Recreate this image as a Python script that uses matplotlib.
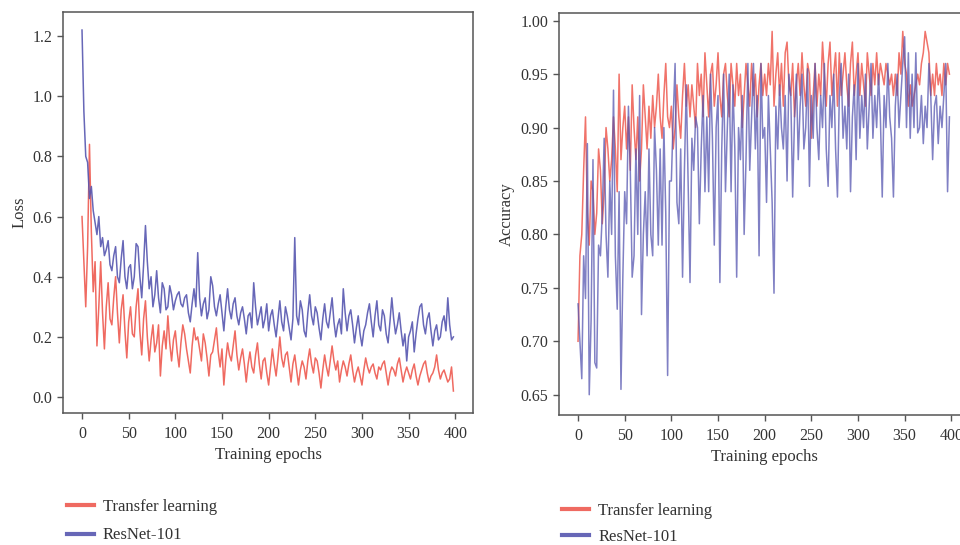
import matplotlib
matplotlib.use('Agg')
import matplotlib.pyplot as plt

plt.rcParams['font.family'] = ['Liberation Serif', 'DejaVu Serif']

epochs = list(range(0, 400, 2))

# loss, ResNet-101
loss_resnet = [
    1.22, 0.95, 0.80, 0.78, 0.66, 0.70, 0.62, 0.58, 0.54, 0.60,
    0.50, 0.53, 0.47, 0.49, 0.52, 0.44, 0.42, 0.47, 0.50, 0.40,
    0.38, 0.46, 0.52, 0.40, 0.36, 0.43, 0.44, 0.36, 0.40, 0.51,
    0.50, 0.40, 0.33, 0.44, 0.57, 0.45, 0.36, 0.40, 0.30, 0.34,
    0.42, 0.33, 0.28, 0.38, 0.36, 0.29, 0.30, 0.37, 0.34, 0.29,
    0.32, 0.34, 0.35, 0.31, 0.30, 0.33, 0.34, 0.28, 0.25, 0.31,
    0.36, 0.30, 0.48, 0.33, 0.27, 0.31, 0.33, 0.26, 0.29, 0.40,
    0.37, 0.30, 0.27, 0.31, 0.34, 0.28, 0.22, 0.30, 0.36, 0.29,
    0.26, 0.31, 0.33, 0.27, 0.24, 0.28, 0.30, 0.26, 0.21, 0.27,
    0.28, 0.23, 0.38, 0.30, 0.24, 0.27, 0.30, 0.23, 0.26, 0.31,
    0.22, 0.27, 0.29, 0.24, 0.20, 0.26, 0.32, 0.25, 0.22, 0.30,
    0.27, 0.23, 0.19, 0.26, 0.53, 0.27, 0.24, 0.32, 0.29, 0.22,
    0.20, 0.28, 0.34, 0.27, 0.24, 0.30, 0.28, 0.23, 0.19, 0.26,
    0.31, 0.25, 0.23, 0.28, 0.33, 0.25, 0.20, 0.24, 0.26, 0.21,
    0.36, 0.28, 0.22, 0.27, 0.29, 0.24, 0.18, 0.23, 0.27, 0.21,
    0.17, 0.22, 0.24, 0.28, 0.31, 0.25, 0.20, 0.27, 0.32, 0.24,
    0.22, 0.29, 0.27, 0.21, 0.18, 0.25, 0.33, 0.26, 0.21, 0.24,
    0.28, 0.22, 0.17, 0.21, 0.12, 0.20, 0.22, 0.25, 0.15, 0.21,
    0.26, 0.30, 0.31, 0.24, 0.21, 0.26, 0.28, 0.22, 0.17, 0.22,
    0.24, 0.19, 0.20, 0.25, 0.27, 0.22, 0.33, 0.24, 0.19, 0.20,
]

# loss, transfer learning
loss_transfer = [
    0.60, 0.45, 0.30, 0.50, 0.84, 0.55, 0.35, 0.45, 0.17, 0.30,
    0.45, 0.28, 0.16, 0.30, 0.38, 0.26, 0.24, 0.33, 0.40, 0.28,
    0.18, 0.29, 0.34, 0.22, 0.13, 0.25, 0.30, 0.21, 0.20, 0.30,
    0.36, 0.22, 0.14, 0.26, 0.32, 0.20, 0.12, 0.19, 0.24, 0.15,
    0.18, 0.24, 0.07, 0.17, 0.22, 0.16, 0.27, 0.18, 0.12, 0.19,
    0.22, 0.15, 0.10, 0.18, 0.24, 0.21, 0.16, 0.12, 0.08, 0.17,
    0.23, 0.19, 0.20, 0.16, 0.12, 0.21, 0.18, 0.13, 0.07, 0.14,
    0.15, 0.19, 0.23, 0.15, 0.10, 0.16, 0.04, 0.12, 0.18, 0.14,
    0.12, 0.17, 0.22, 0.14, 0.09, 0.13, 0.16, 0.11, 0.05, 0.11,
    0.15, 0.10, 0.08, 0.14, 0.18, 0.11, 0.06, 0.12, 0.13, 0.08,
    0.04, 0.10, 0.16, 0.11, 0.07, 0.13, 0.20, 0.13, 0.10, 0.14,
    0.15, 0.10, 0.05, 0.11, 0.14, 0.09, 0.04, 0.09, 0.12, 0.10,
    0.06, 0.12, 0.16, 0.11, 0.08, 0.13, 0.12, 0.08, 0.03, 0.09,
    0.14, 0.10, 0.07, 0.12, 0.17, 0.12, 0.09, 0.12, 0.05, 0.09,
    0.12, 0.10, 0.07, 0.11, 0.14, 0.09, 0.05, 0.08, 0.10, 0.07,
    0.04, 0.09, 0.13, 0.10, 0.08, 0.10, 0.11, 0.08, 0.06, 0.10,
    0.09, 0.11, 0.12, 0.08, 0.04, 0.08, 0.10, 0.09, 0.07, 0.11,
    0.13, 0.09, 0.05, 0.08, 0.10, 0.08, 0.06, 0.09, 0.11, 0.07,
    0.04, 0.07, 0.09, 0.11, 0.12, 0.08, 0.05, 0.07, 0.08, 0.10,
    0.14, 0.09, 0.06, 0.08, 0.09, 0.07, 0.05, 0.06, 0.10, 0.02,
]

# accuracy, ResNet-101
acc_resnet = [
    0.735, 0.70, 0.665, 0.78, 0.74, 0.885, 0.65, 0.72, 0.87, 0.68,
    0.675, 0.79, 0.78, 0.82, 0.89, 0.80, 0.76, 0.85, 0.80, 0.935,
    0.78, 0.73, 0.84, 0.655, 0.76, 0.84, 0.81, 0.92, 0.86, 0.76,
    0.78, 0.88, 0.80, 0.93, 0.725, 0.80, 0.84, 0.78, 0.88, 0.80,
    0.78, 0.90, 0.86, 0.79, 0.88, 0.79, 0.90, 0.82, 0.668, 0.85,
    0.85, 0.91, 0.96, 0.83, 0.81, 0.88, 0.76, 0.86, 0.94, 0.85,
    0.755, 0.89, 0.86, 0.91, 0.90, 0.81, 0.88, 0.93, 0.84, 0.91,
    0.84, 0.95, 0.89, 0.79, 0.90, 0.93, 0.755, 0.88, 0.95, 0.84,
    0.90, 0.95, 0.84, 0.94, 0.88, 0.76, 0.90, 0.87, 0.93, 0.80,
    0.87, 0.96, 0.86, 0.91, 0.96, 0.88, 0.93, 0.78, 0.96, 0.89,
    0.90, 0.83, 0.93, 0.88, 0.83, 0.745, 0.92, 0.88, 0.94, 0.90,
    0.88, 0.93, 0.85, 0.95, 0.93, 0.835, 0.91, 0.95, 0.87, 0.92,
    0.95, 0.88, 0.90, 0.955, 0.845, 0.93, 0.89, 0.96, 0.90, 0.87,
    0.93, 0.90, 0.96, 0.88, 0.845, 0.93, 0.90, 0.95, 0.88, 0.835,
    0.93, 0.96, 0.89, 0.92, 0.88, 0.95, 0.84, 0.91, 0.94, 0.87,
    0.96, 0.89, 0.93, 0.90, 0.95, 0.88, 0.92, 0.96, 0.89, 0.93,
    0.90, 0.95, 0.91, 0.835, 0.93, 0.90, 0.96, 0.91, 0.89, 0.835,
    0.92, 0.95, 0.90, 0.93, 0.96, 0.985, 0.90, 0.97, 0.89, 0.95,
    0.90, 0.97, 0.895, 0.90, 0.93, 0.885, 0.92, 0.90, 0.96, 0.93,
    0.87, 0.92, 0.93, 0.885, 0.92, 0.90, 0.93, 0.96, 0.84, 0.91,
]

# accuracy, transfer learning
acc_transfer = [
    0.70, 0.78, 0.80, 0.86, 0.91, 0.82, 0.79, 0.85, 0.84, 0.80,
    0.82, 0.88, 0.86, 0.81, 0.84, 0.90, 0.88, 0.85, 0.87, 0.91,
    0.88, 0.84, 0.95, 0.87, 0.90, 0.92, 0.88, 0.91, 0.86, 0.94,
    0.90, 0.87, 0.91, 0.85, 0.88, 0.94, 0.91, 0.88, 0.92, 0.89,
    0.93, 0.90, 0.92, 0.95, 0.91, 0.89, 0.93, 0.96, 0.91, 0.90,
    0.92, 0.88, 0.90, 0.94, 0.91, 0.89, 0.93, 0.96, 0.92, 0.94,
    0.91, 0.94, 0.92, 0.90, 0.96, 0.93, 0.95, 0.91, 0.97, 0.94,
    0.91, 0.95, 0.96, 0.92, 0.94, 0.97, 0.93, 0.91, 0.95, 0.96,
    0.93, 0.91, 0.96, 0.94, 0.92, 0.96, 0.93, 0.95, 0.90, 0.93,
    0.96, 0.94, 0.92, 0.96, 0.93, 0.95, 0.91, 0.94, 0.96, 0.93,
    0.95, 0.93, 0.96, 0.94, 0.99, 0.92, 0.95, 0.97, 0.93, 0.96,
    0.92, 0.97, 0.98, 0.94, 0.93, 0.96, 0.91, 0.94, 0.96, 0.93,
    0.97, 0.94, 0.92, 0.96, 0.95, 0.89, 0.93, 0.96, 0.92, 0.95,
    0.93, 0.98, 0.95, 0.92, 0.96, 0.98, 0.93, 0.95, 0.97, 0.92,
    0.97, 0.93, 0.95, 0.97, 0.94, 0.92, 0.96, 0.98, 0.93, 0.95,
    0.97, 0.93, 0.96, 0.94, 0.92, 0.97, 0.95, 0.93, 0.96, 0.94,
    0.97, 0.94, 0.96, 0.95, 0.94, 0.96, 0.95, 0.94, 0.95, 0.93,
    0.95, 0.93, 0.97, 0.95, 0.99, 0.96, 0.95, 0.92, 0.94, 0.92,
    0.93, 0.94, 0.95, 0.94, 0.96, 0.97, 0.99, 0.98, 0.97, 0.93,
    0.95, 0.93, 0.96, 0.94, 0.95, 0.93, 0.96, 0.94, 0.96, 0.95,
]

RED = '#ee5a50'
BLUE = '#5656b0'
TEXT = '#333333'

fig = plt.figure(figsize=(9.6, 5.45), dpi=100)
ax1 = fig.add_axes([0.0656, 0.2422, 0.4271, 0.7358])
ax2 = fig.add_axes([0.5823, 0.2385, 0.4271, 0.7376])

for ax in (ax1, ax2):
    for sp in ax.spines.values():
        sp.set_color('#555555')
        sp.set_linewidth(1.1)
    ax.tick_params(direction='out', length=4, width=1, color='#555555',
                   labelsize=11.5, labelcolor=TEXT)
    ax.tick_params(axis='x', pad=5)
    ax.set_xticks(range(0, 401, 50))
    ax.set_xlim(-20.4, 419)
    ax.set_xlabel('Training epochs', fontsize=12, color=TEXT)

# loss panel
ax1.plot(epochs, loss_transfer, color=RED, lw=1.1, alpha=0.9, label='Transfer learning')
ax1.plot(epochs, loss_resnet, color=BLUE, lw=1.1, alpha=0.9, label='ResNet-101')
ax1.set_ylim(-0.053, 1.28)
ax1.set_yticks([0.0, 0.2, 0.4, 0.6, 0.8, 1.0, 1.2])
ax1.set_ylabel('Loss', fontsize=12, color=TEXT, labelpad=3.5)

# accuracy panel
ax2.plot(epochs, acc_transfer, color=RED, lw=1.1, alpha=0.85, label='Transfer learning')
ax2.plot(epochs, acc_resnet, color=BLUE, lw=1.1, alpha=0.75, label='ResNet-101')
ax2.set_ylim(0.631, 1.0072)
ax2.set_yticks([0.65, 0.70, 0.75, 0.80, 0.85, 0.90, 0.95, 1.00])
ax2.set_yticklabels(['%.2f' % v for v in ax2.get_yticks()])
ax2.set_ylabel('Accuracy', fontsize=12, color=TEXT, labelpad=4.5)

for ax, x0, y0, gap in ((ax1, 0.054, 0.112, 0.75), (ax2, 0.570, 0.105, 0.62)):
    leg = fig.legend(*ax.get_legend_handles_labels(), loc='upper left',
                     bbox_to_anchor=(x0, y0), bbox_transform=fig.transFigure,
                     frameon=False, fontsize=12, handlelength=1.6,
                     labelspacing=gap, handletextpad=0.55)
    for h in leg.get_lines():
        h.set_linewidth(3)
        h.set_alpha(0.9)
    for t in leg.get_texts():
        t.set_color(TEXT)

plt.savefig('out.png', dpi=100)
